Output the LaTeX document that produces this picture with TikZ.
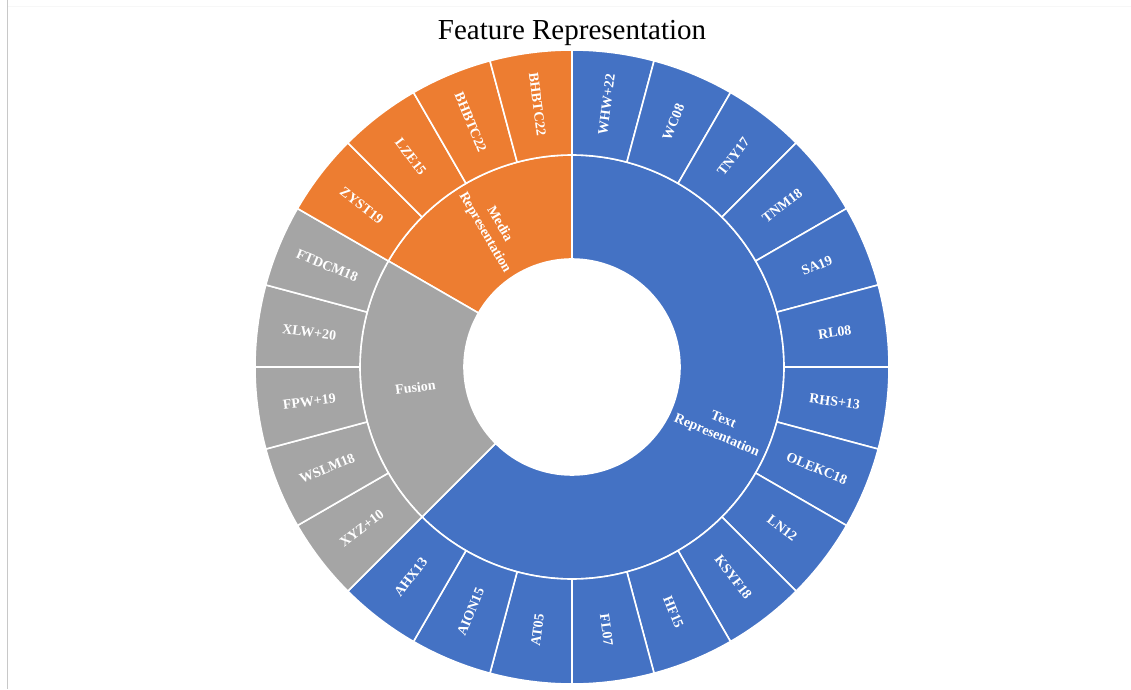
\documentclass[tikz,border=0pt]{standalone}
\usepackage{fontspec}
\setmainfont{Liberation Serif}
\usetikzlibrary{calc}
\tikzset{>=latex}
\definecolor{textblue}{HTML}{4472C4}
\definecolor{mediaorange}{HTML}{ED7D31}
\definecolor{fusiongray}{HTML}{A5A5A5}
\definecolor{framegray}{HTML}{C8C8C8}
\tikzset{
    wedge/.style={draw=white, line width=1.6pt, line join=round},
    leaflabel/.style={text=white, inner sep=0pt,
        font=\bfseries\fontsize{14}{14}\selectfont},
    grouplabel/.style={text=white, inner sep=0pt, align=center,
        font=\bfseries\fontsize{14}{17}\selectfont},
}
\newcommand{\ringwedge}[5]{% colour, start angle, end angle, inner r, outer r
    \draw[wedge, fill=#1] ($(c)+(#2:#4)$) arc[start angle=#2, end angle=#3, radius=#4]
        -- ($(c)+(#3:#5)$) arc[start angle=#3, end angle=#2, radius=#5] -- cycle;
}
\begin{document}
\begin{tikzpicture}[x=1pt,y=1pt]
    \useasboundingbox (0,0) rectangle (1131,689);
    \draw[framegray, line width=1pt] (7.5,689) -- (7.5,0);
    \draw[gray!6, line width=0.8pt] (8,683) -- (1131,683);
    \coordinate (c) at (572,322);
    \node[font=\fontsize{29}{29}\selectfont] (title) at (572,656) {Feature Representation};
    % middle ring
    \ringwedge{textblue}{-135}{90}{108}{212}
    \ringwedge{mediaorange}{90}{150}{108}{212}
    \ringwedge{fusiongray}{150}{225}{108}{212}
    % outer ring, clockwise from the top
    \foreach \lab/\col [count=\i from 0] in {WHW+22/textblue, WC08/textblue, TNY17/textblue,
        TNM18/textblue, SA19/textblue, RL08/textblue, RHS+13/textblue, OLEKC18/textblue,
        LN12/textblue, KSYF18/textblue, HF15/textblue, FL07/textblue, AT05/textblue,
        AION15/textblue, AHX13/textblue, XYZ+10/fusiongray, WSLM18/fusiongray,
        FPW+19/fusiongray, XLW+20/fusiongray, FTDCM18/fusiongray, ZYST19/mediaorange,
        LZE15/mediaorange, BHBTC22/mediaorange, BHBTC22/mediaorange}{
        \pgfmathsetmacro{\a}{90-15*\i}
        \pgfmathsetmacro{\b}{75-15*\i}
        \pgfmathsetmacro{\m}{82.5-15*\i}
        \pgfmathsetmacro{\rot}{ifthenelse(\m<-90,\m+180,\m)}
        \ringwedge{\col}{\a}{\b}{212}{317}
        \node[leaflabel, rotate=\rot] (leaf\i) at ($(c)+(\m:265)$) {\lab};
    }
    % group labels
    \node[grouplabel, rotate=-22.5] (textrep) at ($(c)+(-22.5:160)$) {Text\\Representation};
    \node[grouplabel, rotate=-60] (mediarep) at ($(c)+(120:160)$) {Media\\Representation};
    \node[grouplabel, rotate=7.5] (fusion) at ($(c)+(187.5:158)$) {Fusion};
\end{tikzpicture}
\end{document}
